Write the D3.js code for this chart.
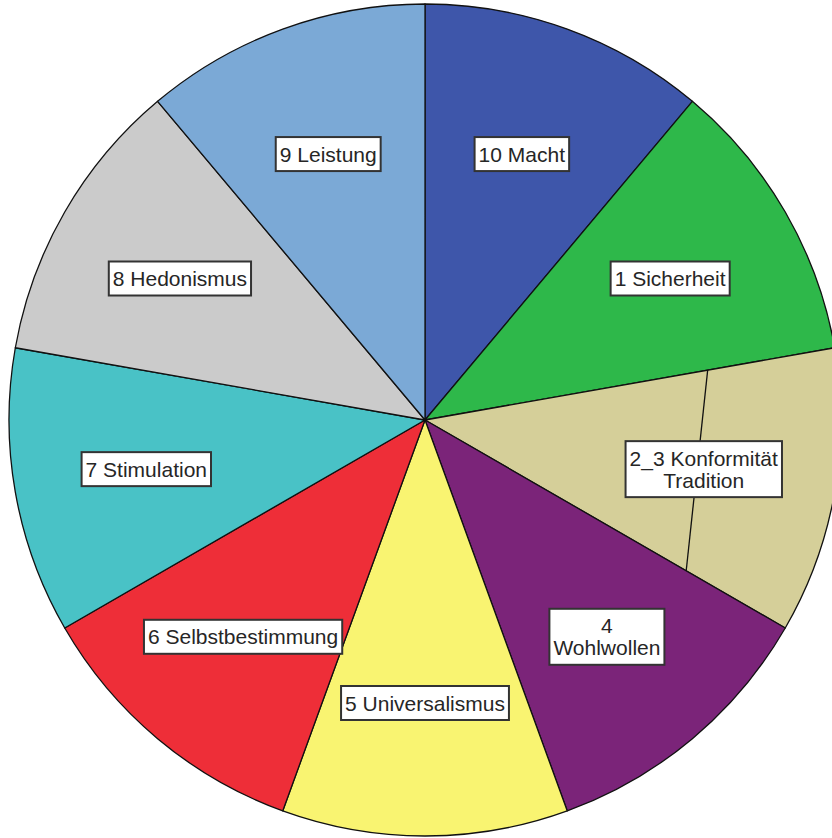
<!DOCTYPE html>
<html>
<head>
<meta charset="utf-8">
<script src="https://cdn.jsdelivr.net/npm/d3@7"></script>
<style>
  html, body { margin: 0; padding: 0; background: #fff; }
  svg { display: block; }
  .lbl text { font-family: "Liberation Sans", Arial, sans-serif; font-size: 21px; fill: #262626; }
</style>
</head>
<body>
<div id="chart"></div>
<script>
var w = 832,
    h = 838;

// slices, clockwise from 12 o'clock
var categories = ["10 Macht", "1 Sicherheit", "2_3 Konformität Tradition", "4 Wohlwollen",
    "5 Universalismus", "6 Selbstbestimmung", "7 Stimulation", "8 Hedonismus", "9 Leistung"];
var values = [1, 1, 1, 1, 1, 1, 1, 1, 1];
// label lines as printed in the boxes
var labelLines = [["10 Macht"], ["1 Sicherheit"], ["2_3 Konformität", "Tradition"], ["4", "Wohlwollen"],
    ["5 Universalismus"], ["6 Selbstbestimmung"], ["7 Stimulation"], ["8 Hedonismus"], ["9 Leistung"]];
var colors = ['#3e56aa', '#2eb84a', '#d5cf99', '#7b2479', '#f9f471', '#ee2e38', '#49c2c6', '#cbcbcb', '#7ba9d6'];

var cx = 425, cy = 420, radius = 416;

var color = d3.scaleOrdinal().domain(categories).range(colors);

var data = categories.map(function(c, i) {
    return { name: c, value: values[i], lines: labelLines[i] };
});

var svg = d3.select("#chart").append("svg")
    .attr("width", w)
    .attr("height", h);

var g = svg.append("g").attr("transform", "translate(" + cx + "," + cy + ")");

var pie = d3.pie().sort(null).value(function(d) { return d.value; });
var arcs = pie(data);

var arc = d3.arc().innerRadius(0).outerRadius(radius);
var labelArc = d3.arc().innerRadius(283).outerRadius(283);

g.selectAll("path.slice")
    .data(arcs)
    .enter().append("path")
    .attr("class", "slice")
    .attr("d", arc)
    .style("fill", function(d) { return color(d.data.name); })
    .style("stroke", "#111")
    .style("stroke-width", 1.3)
    .style("stroke-linejoin", "round");

// odd little line that crosses the 2_3 slice
var k = arcs[2];
function pt(a, r) { return [r * Math.sin(a), -r * Math.cos(a)]; }
var p1 = pt(k.startAngle, 0.69 * radius),
    p2 = pt(k.endAngle, 0.725 * radius);
g.append("line")
    .attr("x1", p1[0]).attr("y1", p1[1])
    .attr("x2", p2[0]).attr("y2", p2[1])
    .style("stroke", "#111")
    .style("stroke-width", 1.3);

var lineH = 22;

var labels = g.selectAll("g.lbl")
    .data(arcs)
    .enter().append("g")
    .attr("class", "lbl")
    .attr("transform", function(d) {
        var c = labelArc.centroid(d);
        return "translate(" + c[0] + "," + c[1] + ")";
    });

labels.each(function(d) {
    var el = d3.select(this);
    var n = d.data.lines.length;
    var rect = el.append("rect");
    var t = el.append("text").attr("text-anchor", "middle");
    d.data.lines.forEach(function(s, i) {
        t.append("tspan")
            .attr("x", 0)
            .attr("y", (i - (n - 1) / 2) * lineH)
            .attr("dy", "0.36em")
            .text(s);
    });
    var bb = t.node().getBBox();
    rect.attr("x", bb.x - 4)
        .attr("y", -(n * lineH) / 2 - 6)
        .attr("width", bb.width + 8)
        .attr("height", n * lineH + 12)
        .style("fill", "#fff")
        .style("stroke", "#333")
        .style("stroke-width", 2);
});
</script>
</body>
</html>
